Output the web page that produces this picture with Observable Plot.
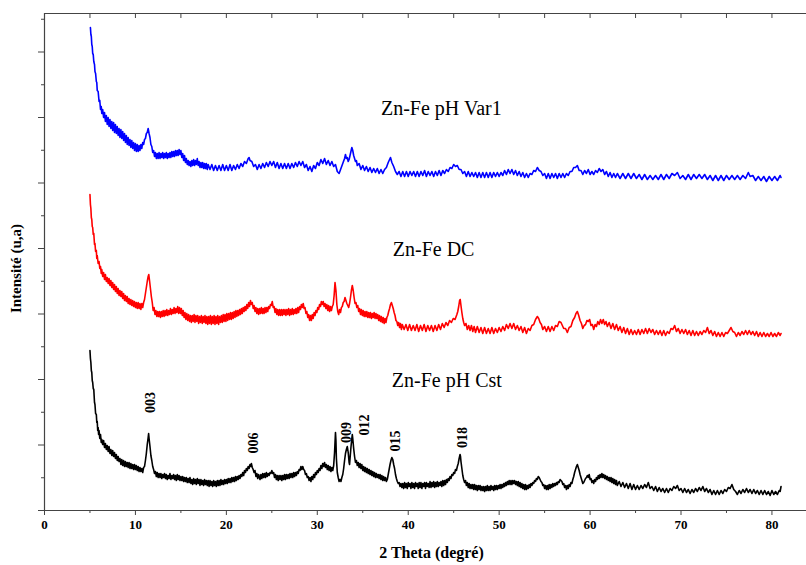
<!DOCTYPE html>
<html><head><meta charset="utf-8">
<script src="https://cdn.jsdelivr.net/npm/d3@7"></script>
<script src="https://cdn.jsdelivr.net/npm/@observablehq/plot@0.6"></script>
<style>body{margin:0;background:#fff;} svg{display:block;}
g[aria-label="x-title"] text{letter-spacing:0.9px;}
</style>
</head><body><div id="chart"></div>
<script>
const xMajor = [0,10,20,30,40,50,60,70,80];
const xMinor = [5,15,25,35,45,55,65,75];
const xTop = [0,5,10,15,20,25,30,35,40,45,50,55,60,65,70,75,80];
const yMajor = [0,65.5,131,196.5,262,327.5,393,458.5];
const yMinor = [32.75,98.25,163.75,229.25,294.75,360.25,425.75,491.25];

// Zn-Fe pH Cst (black) : [2theta, intensity]
const cstData = [[5.0,160],[5.05,152],[5.1,148],[5.15,140],[5.2,138],[5.25,130],[5.3,128],[5.36,122],[5.42,121],[5.5,108],[5.55,106],[5.62,97],[5.7,96],[5.75,88],[5.8,89],[5.85,80],[5.9,83],[5.95,76],[6.0,80],[6.08,72],[6.16,76],[6.24,68],
[6.3,71],[6.4,66],[6.5,70],[6.6,63],[6.7,67],[6.8,61],[6.9,65],[7.0,59],[7.1,64],[7.2,57],[7.3,61],[7.4,55],[7.5,60],[7.6,54],[7.7,58],[7.8,52],[7.9,56],[8.0,50],[8.1,54],[8.2,49],[8.3,52],[8.4,46],[8.5,51],[8.6,45],[8.7,50],[8.8,44],[8.9,49],[9.0,44],[9.1,48],[9.2,43],[9.3,48],[9.4,42],[9.5,47],[9.6,42],[9.7,46],[9.8,41],[9.9,46],[10.0,41],[10.1,45],[10.2,40],[10.3,44],[10.4,39],[10.5,43],[10.6,39],[10.7,42],[10.8,38],[10.9,43],
[11.0,44],[11.1,50],[11.2,57],[11.3,66],[11.4,73],[11.45,77],[11.5,72],[11.6,64],[11.7,55],[11.8,50],[11.9,44],[12.0,41],[12.1,37],[12.2,39],[12.3,34],[12.4,38],[12.5,33],[12.6,37],[12.7,33],[12.8,37],[12.9,32],[13.0,36],[13.1,33],[13.2,37],[13.3,32],[13.4,36],[13.5,31],[13.6,35],[13.7,32],[13.8,37],[13.9,31],[14.0,35],[14.1,32],[14.2,36],[14.3,31],[14.4,35],[14.5,30],[14.6,36],[14.7,31],[14.8,35],[14.9,30],[15.0,34],[15.1,30],[15.2,34],[15.3,29],[15.4,33],[15.5,29],[15.6,33],[15.7,28],[15.8,32],[15.9,28],[16.0,33],[16.1,27],[16.2,31],[16.3,26],[16.4,32],[16.5,27],[16.6,31],[16.7,26],[16.8,32],[16.9,27],[17.0,31],[17.1,25],[17.2,31],[17.3,26],[17.4,30],[17.5,25],[17.6,31],[17.7,26],[17.8,30],[17.9,25],[18.0,30],[18.1,24],[18.2,30],[18.3,25],[18.4,29],[18.5,24],[18.6,30],[18.7,25],[18.8,29],[18.9,24],[19.0,30],[19.1,25],[19.2,30],[19.3,25],[19.4,31],[19.5,26],[19.6,30],[19.7,26],[19.8,31],[19.9,27],[20.0,31],[20.1,27],[20.2,32],[20.3,28],[20.4,32],[20.5,28],[20.6,33],[20.7,29],[20.8,33],[20.9,29],[21.0,34],[21.1,30],[21.2,34],[21.3,31],[21.4,35],[21.5,32],[21.6,36],[21.7,34],[21.8,38],[21.9,35],[22.0,40],[22.1,38],[22.2,42],[22.3,40],[22.4,44],[22.5,42],[22.6,46],[22.7,44],[22.75,47],[22.85,43],[22.95,41],[23.05,38],[23.15,40],[23.25,34],[23.35,37],[23.45,32],[23.55,36],[23.7,31],[23.8,36],[23.9,32],[24.0,37],[24.1,33],[24.2,37],[24.3,33],[24.4,38],[24.5,34],[24.6,37],[24.7,35],[24.8,38],[24.9,37],[25.0,40],[25.1,37],[25.2,38],[25.3,33],[25.4,36],[25.5,31],[25.6,35],[25.7,30],[25.8,35],[25.9,31],[26.0,35],[26.1,30],[26.2,35],[26.3,31],[26.4,36],[26.5,31],[26.6,36],[26.7,32],[26.8,36],[26.9,32],[27.0,37],[27.1,33],[27.2,37],[27.3,33],[27.4,38],[27.5,34],[27.6,38],[27.7,35],[27.8,39],[27.9,37],[28.0,41],[28.1,40],[28.2,44],[28.3,41],[28.4,44],[28.5,41],[28.6,40],[28.7,36],[28.8,37],[28.9,33],[29.0,34],[29.1,30],[29.2,33],[29.3,29],[29.4,34],[29.5,31],[29.6,36],[29.7,33],[29.8,38],[29.9,36],[30.0,40],[30.1,38],[30.2,42],[30.3,40],[30.4,45],[30.5,42],[30.6,47],[30.7,44],[30.8,48],[30.9,43],[31.0,46],[31.1,41],[31.2,45],[31.3,40],[31.4,44],[31.5,39],[31.6,43],[31.7,40],[31.8,45],[31.9,58],[32.0,78],[32.05,70],[32.1,52],[32.2,38],[32.3,33],[32.4,29],[32.5,31],[32.6,29],[32.7,33],[32.8,36],[32.9,42],[33.0,50],[33.1,57],[33.2,61],[33.3,64],[33.4,58],[33.5,48],[33.55,46],[33.6,52],[33.7,63],[33.8,72],[33.85,76],[33.9,72],[34.0,62],[34.1,54],[34.2,48],[34.3,50],[34.4,45],[34.5,48],[34.6,43],[34.7,47],[34.8,42],[34.9,46],[35.0,40],[35.1,44],[35.2,39],[35.3,43],[35.4,38],[35.5,42],[35.6,37],[35.7,41],[35.8,36],[35.9,40],[36.0,35],[36.1,39],[36.2,34],[36.3,38],[36.4,33],[36.5,37],[36.6,33],[36.7,36],[36.8,32],[36.9,36],[37.0,31],[37.1,35],[37.2,30],[37.3,34],[37.4,30],[37.5,33],[37.6,29],[37.7,31],[37.8,36],[37.9,41],[38.0,46],[38.1,50],[38.2,53],[38.3,51],[38.4,46],[38.5,42],[38.6,36],[38.7,32],[38.8,29],[38.9,27],[39.0,28],[39.1,24],[39.2,27],[39.3,23],[39.4,27],[39.5,22],[39.6,28],[39.7,23],[39.8,27],[39.9,22],[40.0,28],[40.1,24],[40.2,27],[40.3,22],[40.4,28],[40.5,23],[40.6,27],[40.7,22],[40.8,28],[40.9,24],[41.0,27],[41.1,22],[41.2,28],[41.3,23],[41.4,28],[41.5,22],[41.6,27],[41.7,24],[41.8,28],[41.9,22],[42.0,28],[42.1,24],[42.2,27],[42.3,23],[42.4,29],[42.5,23],[42.6,28],[42.7,24],[42.8,29],[42.9,23],[43.0,28],[43.1,24],[43.2,29],[43.3,24],[43.4,28],[43.5,25],[43.6,29],[43.7,24],[43.8,30],[43.9,25],[44.0,30],[44.1,26],[44.2,31],[44.3,28],[44.4,32],[44.5,30],[44.6,34],[44.7,32],[44.8,36],[44.9,35],[45.0,38],[45.1,37],[45.2,41],[45.3,40],[45.4,44],[45.5,47],[45.6,52],[45.7,56],[45.75,54],[45.8,49],[45.9,42],[46.0,35],[46.1,31],[46.2,28],[46.3,30],[46.4,25],[46.5,28],[46.6,23],[46.7,27],[46.8,22],[46.9,26],[47.0,22],[47.1,26],[47.2,21],[47.3,26],[47.4,21],[47.5,25],[47.6,20],[47.7,25],[47.8,21],[47.9,25],[48.0,20],[48.1,24],[48.2,20],[48.3,24],[48.4,19],[48.5,24],[48.6,20],[48.7,25],[48.8,20],[48.9,24],[49.0,20],[49.1,25],[49.2,21],[49.3,24],[49.4,20],[49.5,25],[49.6,21],[49.7,25],[49.8,21],[49.9,25],[50.0,22],[50.1,26],[50.2,22],[50.3,26],[50.4,23],[50.5,27],[50.6,24],[50.7,28],[50.8,25],[50.9,29],[51.0,26],[51.1,30],[51.2,26],[51.3,30],[51.4,26],[51.5,30],[51.6,27],[51.7,30],[51.8,26],[51.9,29],[52.0,25],[52.1,29],[52.2,24],[52.3,28],[52.4,23],[52.5,27],[52.6,22],[52.7,26],[52.8,21],[52.9,26],[53.0,21],[53.1,25],[53.2,22],[53.3,26],[53.4,23],[53.5,27],[53.6,25],[53.7,28],[53.8,27],[53.9,30],[54.0,29],[54.1,32],[54.2,31],[54.3,34],[54.4,33],[54.5,31],[54.6,29],[54.7,28],[54.8,25],[54.9,26],[55.0,22],[55.1,25],[55.2,21],[55.3,25],[55.4,21],[55.5,26],[55.6,22],[55.7,26],[55.8,23],[55.9,27],[56.0,24],[56.1,27],[56.2,25],[56.3,28],[56.4,26],[56.5,29],[56.6,28],[56.7,31],[56.8,30],[56.9,29],[57.0,26],[57.1,27],[57.2,23],[57.3,25],[57.4,21],[57.5,25],[57.6,22],[57.7,26],[57.8,24],[57.9,28],[58.0,27],[58.1,31],[58.2,34],[58.3,38],[58.4,41],[58.5,44],[58.6,46],[58.7,43],[58.8,40],[58.9,36],[59.0,33],[59.1,30],[59.2,27],[59.3,28],[59.4,30],[59.5,32],[59.6,33],[59.7,35],[59.8,33],[59.9,36],[60.0,31],[60.1,32],[60.2,28],[60.3,30],[60.4,27],[60.5,31],[60.6,29],[60.7,33],[60.8,31],[60.9,35],[61.0,32],[61.1,36],[61.2,33],[61.3,37],[61.4,33],[61.5,36],[61.6,32],[61.7,35],[61.8,31],[61.9,34],[62.0,30],[62.1,33],[62.2,29],[62.3,33],[62.4,28],[62.5,32],[62.6,27],[62.7,31],[62.8,26],[62.9,30],[63.0,25],[63.2,29],[63.4,24],[63.6,28],[63.8,23],[64.0,27],[64.2,22],[64.4,27],[64.6,21],[64.8,26],[65.0,21],[65.2,25],[65.4,21],[65.6,25],[65.8,22],[66.0,26],[66.2,23],[66.4,28],[66.6,22],[66.8,24],[67.0,20],[67.2,24],[67.4,19],[67.6,23],[67.8,19],[68.0,22],[68.2,18],[68.4,22],[68.6,18],[68.8,22],[69.0,20],[69.2,24],[69.4,22],[69.6,25],[69.8,20],[70.0,22],[70.2,18],[70.4,22],[70.6,18],[70.8,21],[71.0,17],[71.2,21],[71.4,18],[71.6,22],[71.8,19],[72.0,23],[72.2,20],[72.4,24],[72.6,19],[72.8,22],[73.0,18],[73.2,21],[73.4,16],[73.6,20],[73.8,16],[74.0,20],[74.2,16],[74.4,20],[74.6,17],[74.8,21],[75.0,19],[75.2,23],[75.4,22],[75.6,26],[75.8,21],[76.0,19],[76.2,16],[76.4,20],[76.6,17],[76.8,21],[77.0,18],[77.2,22],[77.4,18],[77.6,21],[77.8,17],[78.0,21],[78.2,17],[78.4,20],[78.6,16],[78.8,20],[79.0,16],[79.2,20],[79.4,16],[79.6,19],[79.8,15],[80.0,20],[80.2,16],[80.4,19],[80.6,16],[80.8,20],[80.9,19],[81.0,24]];

// Zn-Fe DC (red)
const dcData = [[5.0,316],[5.05,306],[5.1,302],[5.15,293],[5.2,291],[5.25,284],[5.3,283],[5.36,276],[5.42,277],[5.5,266],[5.55,267],[5.62,259],[5.7,260],[5.75,252],[5.8,255],[5.9,247],[6.0,249],[6.08,242],[6.16,244],[6.24,237],[6.3,241],[6.4,234],[6.5,238],[6.6,231],[6.7,236],[6.8,229],[6.9,233],[7.0,227],[7.1,232],[7.2,225],[7.3,230],[7.4,223],[7.5,228],[7.6,221],[7.7,226],[7.8,219],[7.9,224],[8.0,217],[8.1,222],[8.2,215],[8.3,220],[8.4,214],[8.5,219],[8.6,212],[8.7,217],[8.8,210],[8.9,215],[9.0,209],[9.1,214],[9.2,207],[9.3,212],[9.4,206],[9.5,211],[9.6,205],[9.7,210],[9.8,204],[9.9,209],[10.0,203],[10.1,208],[10.2,202],[10.3,208],[10.4,202],[10.5,207],[10.6,201],[10.7,207],[10.8,203],[10.9,208],
[11.0,211],[11.1,217],[11.2,223],[11.3,229],[11.4,234],[11.47,236],[11.55,230],[11.65,222],[11.75,214],[11.85,208],[11.95,200],[12.05,203],[12.15,196],[12.25,200],[12.35,194],[12.45,199],[12.55,194],[12.65,199],[12.75,193],[12.85,199],[12.95,194],[13.05,200],[13.15,194],[13.25,200],[13.35,195],[13.45,201],[13.55,195],[13.65,200],[13.75,196],[13.85,202],[13.95,196],[14.05,201],[14.15,197],[14.25,203],[14.35,197],[14.45,202],[14.55,198],[14.65,204],[14.75,197],[14.85,203],[14.95,197],[15.05,202],[15.15,195],[15.25,200],[15.35,193],[15.45,198],[15.55,191],[15.65,197],[15.75,190],[15.85,196],[15.95,189],[16.05,195],[16.15,188],[16.25,195],[16.35,189],[16.45,196],[16.55,188],[16.65,195],[16.75,189],[16.85,195],[16.95,187],[17.05,194],[17.15,188],[17.25,195],[17.35,187],[17.45,194],[17.55,188],[17.65,195],[17.75,187],[17.85,194],[17.95,186],[18.05,194],[18.15,187],[18.25,195],[18.35,186],[18.45,194],[18.55,187],[18.65,195],[18.75,186],[18.85,194],[18.95,187],[19.05,195],[19.15,186],[19.25,194],[19.35,188],[19.45,195],[19.55,188],[19.65,196],[19.75,189],[19.85,196],[19.95,189],[20.05,197],[20.15,190],[20.25,197],[20.35,191],[20.45,198],[20.55,191],[20.65,198],[20.75,192],[20.85,199],[20.95,193],[21.05,200],[21.15,194],[21.25,200],[21.35,195],[21.45,201],[21.55,196],[21.65,202],[21.75,197],[21.85,203],[21.95,199],[22.05,204],[22.15,200],[22.25,206],[22.35,202],[22.45,208],[22.55,204],[22.65,210],[22.75,206],[22.85,208],[22.95,202],[23.05,205],[23.15,199],[23.25,203],[23.35,197],[23.45,202],[23.55,196],[23.65,202],[23.75,197],[23.85,203],[23.95,197],[24.05,202],[24.15,197],[24.25,203],[24.35,198],[24.45,203],[24.55,199],[24.65,204],[24.75,202],[24.85,206],[24.95,205],[25.05,209],[25.15,203],[25.25,204],[25.35,198],[25.45,202],[25.55,196],[25.65,201],[25.75,195],[25.85,201],[25.95,195],[26.05,201],[26.15,195],[26.25,201],[26.35,196],[26.45,201],[26.55,195],[26.65,201],[26.75,196],[26.85,202],[26.95,195],[27.05,201],[27.15,196],[27.25,202],[27.35,196],[27.45,201],[27.55,197],[27.65,202],[27.75,197],[27.85,203],[27.95,198],[28.05,204],[28.15,201],[28.25,206],[28.35,203],[28.45,207],[28.55,202],[28.65,203],[28.75,197],[28.85,199],[28.95,193],[29.05,196],[29.15,190],[29.25,195],[29.35,190],[29.45,196],[29.55,192],[29.65,198],[29.75,195],[29.85,200],[29.95,198],[30.05,203],[30.15,201],[30.25,206],[30.35,204],[30.45,209],[30.55,206],[30.65,209],[30.75,204],[30.85,207],[30.95,202],[31.05,206],[31.15,200],[31.25,205],[31.35,199],[31.45,204],[31.55,200],[31.65,204],[31.75,206],[31.85,215],[31.95,228],[32.05,220],[32.15,206],[32.25,199],[32.35,196],[32.45,201],[32.55,198],[32.65,203],[32.75,204],[32.85,208],[32.95,209],[33.05,213],[33.15,210],[33.25,207],[33.35,205],[33.45,203],[33.55,207],[33.65,213],[33.75,220],[33.85,225],[33.95,220],[34.05,213],[34.15,207],[34.25,208],[34.35,203],[34.45,205],[34.55,199],[34.65,202],[34.75,196],[34.85,201],[34.95,195],[35.05,200],[35.15,194],[35.25,199],[35.35,194],[35.45,199],[35.55,193],[35.65,198],[35.75,193],[35.85,198],[35.95,192],[36.05,197],[36.15,193],[36.25,198],[36.35,192],[36.45,197],[36.55,192],[36.65,196],[36.75,190],[36.85,195],[36.95,189],[37.05,194],[37.15,188],[37.25,193],[37.35,187],[37.45,192],[37.55,188],[37.65,193],[37.75,195],[37.85,199],[37.95,202],[38.05,206],[38.15,208],[38.25,205],[38.35,202],[38.45,198],[38.55,195],[38.65,190],[38.75,189],[38.85,185],[38.95,188],[39.05,183],[39.15,187],[39.25,181],[39.35,186],[39.55,181],[39.75,186],[39.95,180],[40.15,186],[40.35,180],[40.55,185],[40.75,180],[40.95,186],[41.15,179],[41.35,185],[41.55,180],[41.75,186],[41.95,179],[42.15,185],[42.35,180],[42.55,185],[42.75,179],[42.95,185],[43.15,180],[43.35,186],[43.55,181],[43.75,187],[43.95,183],[44.15,188],[44.35,185],[44.55,190],[44.75,188],[44.95,192],[45.15,191],[45.35,196],[45.45,199],[45.55,204],[45.65,210],[45.72,211],[45.8,205],[45.9,198],[46.0,192],[46.1,188],[46.2,185],[46.35,187],[46.5,181],[46.65,185],[46.8,180],[46.95,185],[47.1,179],[47.25,184],[47.4,178],[47.6,184],[47.8,178],[48.0,183],[48.2,177],[48.4,183],[48.6,177],[48.8,182],[49.0,177],[49.2,183],[49.4,177],[49.6,182],[49.8,178],[50.0,183],[50.2,179],[50.4,184],[50.6,180],[50.8,186],[51.0,182],[51.2,187],[51.4,182],[51.6,187],[51.8,181],[52.0,185],[52.2,180],[52.4,184],[52.6,178],[52.8,183],[53.0,177],[53.2,182],[53.4,180],[53.6,185],[53.8,186],[54.0,191],[54.2,194],[54.35,192],[54.5,188],[54.65,186],[54.8,181],[55.0,184],[55.2,179],[55.4,184],[55.6,179],[55.8,184],[56.0,180],[56.2,185],[56.4,184],[56.6,189],[56.8,188],[56.95,185],[57.1,182],[57.3,182],[57.5,178],[57.7,183],[57.9,184],[58.1,190],[58.3,193],[58.45,197],[58.6,199],[58.75,195],[58.9,190],[59.05,187],[59.2,182],[59.35,185],[59.5,186],[59.65,190],[59.8,189],[59.95,191],[60.1,185],[60.25,186],[60.4,181],[60.55,186],[60.7,184],[60.85,189],[61.0,186],[61.15,191],[61.3,187],[61.45,191],[61.6,186],[61.75,189],[61.9,184],[62.1,188],[62.3,182],[62.5,187],[62.7,181],[62.9,186],[63.1,180],[63.3,184],[63.5,178],[63.7,183],[63.9,177],[64.1,182],[64.3,176],[64.5,181],[64.7,176],[64.9,180],[65.1,176],[65.3,181],[65.5,176],[65.7,181],[65.9,177],[66.1,182],[66.3,177],[66.5,182],[66.7,178],[66.9,181],[67.1,176],[67.3,180],[67.5,176],[67.7,180],[67.9,175],[68.1,180],[68.3,175],[68.5,179],[68.7,177],[68.9,182],[69.1,181],[69.3,185],[69.5,179],[69.7,182],[69.9,177],[70.1,181],[70.3,177],[70.5,181],[70.7,176],[70.9,180],[71.1,175],[71.3,180],[71.5,175],[71.7,179],[71.9,175],[72.1,179],[72.3,176],[72.5,180],[72.7,178],[72.9,183],[73.1,177],[73.3,180],[73.5,175],[73.7,179],[73.9,174],[74.1,178],[74.3,174],[74.5,178],[74.7,174],[74.9,178],[75.1,177],[75.3,180],[75.5,183],[75.7,179],[75.9,178],[76.1,174],[76.3,178],[76.5,175],[76.7,179],[76.9,176],[77.1,180],[77.3,176],[77.5,180],[77.7,176],[77.9,179],[78.1,175],[78.3,179],[78.5,174],[78.7,178],[78.9,174],[79.1,178],[79.3,174],[79.5,177],[79.7,174],[79.9,178],[80.1,174],[80.3,177],[80.5,174],[80.7,178],[80.9,175],[81.0,177]];

// Zn-Fe pH Var1 (blue)
const varData = [[5.05,483],[5.1,476],[5.15,474],[5.2,466],[5.25,464],[5.3,457],[5.36,456],[5.42,449],[5.5,446],[5.55,439],[5.62,437],[5.7,429],[5.75,428],[5.8,420],[5.9,419],[6.0,409],[6.08,410],[6.16,401],[6.24,404],[6.3,397],[6.4,401],[6.5,393],[6.6,398],[6.7,389],[6.8,395],[6.9,386],[7.0,393],[7.1,384],[7.2,391],[7.3,382],[7.4,389],[7.5,380],[7.6,388],[7.7,378],[7.8,386],[7.9,377],[8.0,384],[8.1,375],[8.2,382],[8.3,373],[8.4,381],[8.5,372],[8.6,379],[8.7,370],[8.8,377],[8.9,368],[9.0,375],[9.1,366],[9.2,373],[9.3,365],[9.4,371],[9.5,363],[9.6,370],[9.7,362],[9.8,368],[9.9,360],[10.0,367],[10.1,359],[10.2,366],[10.3,359],[10.4,365],[10.5,360],[10.6,366],[10.7,362],[10.8,368],[10.9,366],[11.0,371],[11.1,372],[11.2,377],[11.3,378],[11.4,382],[11.5,377],[11.6,373],[11.7,366],[11.8,364],[11.9,358],[12.0,360],[12.1,354],[12.2,358],[12.3,352],[12.4,357],[12.5,352],[12.6,358],[12.7,352],[12.8,357],[12.9,353],[13.0,358],[13.1,352],[13.2,357],[13.3,353],[13.4,358],[13.5,352],[13.6,357],[13.7,353],[13.8,358],[13.9,353],[14.0,359],[14.1,354],[14.2,359],[14.3,354],[14.4,360],[14.5,355],[14.6,360],[14.7,355],[14.8,361],[14.9,356],[15.0,360],[15.1,353],[15.2,357],[15.3,350],[15.4,355],[15.5,348],[15.6,352],[15.7,346],[15.8,350],[15.9,345],[16.0,349],[16.1,344],[16.2,350],[16.3,345],[16.4,351],[16.5,345],[16.6,350],[16.7,346],[16.8,352],[16.9,345],[17.0,349],[17.1,343],[17.2,348],[17.3,343],[17.4,348],[17.5,342],[17.6,347],[17.7,342],[17.8,347],[17.9,341],[18.0,346],[18.2,341],[18.4,346],[18.6,340],[18.8,345],[19.0,340],[19.2,345],[19.4,340],[19.6,346],[19.8,340],[20.0,345],[20.2,340],[20.4,346],[20.6,340],[20.8,345],[21.0,341],[21.2,346],[21.4,342],[21.6,347],[21.8,344],[22.0,349],[22.2,347],[22.4,352],[22.5,353],[22.6,350],[22.8,349],[23.0,344],[23.2,346],[23.4,341],[23.6,346],[23.8,342],[24.0,347],[24.2,343],[24.4,348],[24.6,344],[24.8,349],[25.0,345],[25.2,349],[25.4,343],[25.6,348],[25.8,342],[26.0,347],[26.2,342],[26.4,347],[26.6,342],[26.8,347],[27.0,342],[27.2,347],[27.4,343],[27.6,348],[27.8,344],[28.0,349],[28.2,345],[28.4,349],[28.6,343],[28.8,346],[29.0,340],[29.2,344],[29.4,339],[29.6,345],[29.8,342],[30.0,348],[30.2,345],[30.4,351],[30.6,347],[30.8,352],[31.0,346],[31.2,350],[31.4,345],[31.6,349],[31.8,344],[32.0,346],[32.2,339],[32.4,337],[32.6,342],[32.8,347],[33.0,352],[33.1,356],[33.2,352],[33.3,353],[33.4,349],[33.5,351],[33.6,355],[33.7,359],[33.8,363],[33.9,360],[34.0,355],[34.1,352],[34.2,349],[34.3,350],[34.4,345],[34.6,347],[34.8,341],[35.0,345],[35.2,340],[35.4,344],[35.6,339],[35.8,343],[36.0,338],[36.2,342],[36.4,338],[36.6,342],[36.8,337],[37.0,341],[37.2,337],[37.4,341],[37.6,343],[37.8,348],[37.9,350],[38.05,353],[38.2,348],[38.4,344],[38.6,339],[38.8,336],[39.0,339],[39.2,334],[39.4,339],[39.6,334],[39.8,339],[40.0,334],[40.2,339],[40.4,335],[40.6,339],[40.8,334],[41.0,339],[41.2,334],[41.4,339],[41.6,335],[41.8,340],[42.0,334],[42.2,339],[42.4,335],[42.6,339],[42.8,334],[43.0,339],[43.2,335],[43.4,340],[43.6,335],[43.8,340],[44.0,337],[44.2,341],[44.4,339],[44.6,343],[44.8,342],[45.0,346],[45.2,344],[45.4,345],[45.6,341],[45.8,341],[46.0,337],[46.2,339],[46.4,334],[46.6,339],[46.8,334],[47.0,338],[47.2,334],[47.4,338],[47.6,333],[47.8,338],[48.0,333],[48.2,338],[48.4,333],[48.6,338],[48.8,333],[49.0,338],[49.2,333],[49.4,338],[49.6,334],[49.8,338],[50.0,334],[50.2,338],[50.4,335],[50.6,340],[50.8,336],[51.0,341],[51.2,337],[51.4,341],[51.6,336],[51.8,340],[52.0,335],[52.2,339],[52.4,334],[52.6,338],[52.8,333],[53.0,337],[53.2,333],[53.4,337],[53.6,336],[53.8,340],[54.0,339],[54.2,343],[54.4,340],[54.6,339],[54.8,335],[55.0,337],[55.2,332],[55.4,337],[55.6,332],[55.8,337],[56.0,333],[56.2,337],[56.4,332],[56.6,337],[56.8,333],[57.0,337],[57.2,333],[57.4,337],[57.6,335],[57.8,339],[58.0,339],[58.2,343],[58.4,343],[58.6,345],[58.8,340],[59.0,340],[59.2,336],[59.4,340],[59.6,337],[59.8,341],[60.0,336],[60.2,339],[60.4,336],[60.6,340],[60.8,338],[61.0,342],[61.2,339],[61.4,341],[61.6,336],[61.8,339],[62.0,334],[62.2,338],[62.4,333],[62.6,337],[62.8,333],[63.0,337],[63.3,332],[63.6,337],[63.9,332],[64.2,337],[64.5,332],[64.8,337],[65.1,332],[65.4,336],[65.7,331],[66.0,336],[66.3,331],[66.6,335],[66.9,331],[67.2,335],[67.5,331],[67.8,336],[68.1,331],[68.4,336],[68.7,332],[69.0,337],[69.3,335],[69.6,338],[69.9,332],[70.2,335],[70.5,331],[70.8,336],[71.1,331],[71.4,336],[71.7,332],[72.0,336],[72.3,332],[72.6,336],[72.9,331],[73.2,335],[73.5,330],[73.8,335],[74.1,330],[74.4,335],[74.7,330],[75.0,335],[75.3,331],[75.6,335],[75.9,331],[76.2,335],[76.5,331],[76.8,335],[77.1,332],[77.4,338],[77.6,334],[77.9,335],[78.2,330],[78.5,334],[78.8,330],[79.1,334],[79.4,329],[79.7,334],[80.0,330],[80.3,334],[80.6,330],[80.9,335],[81.0,333]];

const seriesLabels = ["Zn-Fe pH Var1","Zn-Fe DC","Zn-Fe pH Cst"];
const labelX = [37.0,38.3,38.2];
const labelY = [402,261,130];
const peakNames = ["003","006","009","012","015","018"];
const peakX = [11.66,23.03,33.2,35.2,38.55,46.0];
const peakY = [108,67.5,78,85.5,69.5,73];

const serif = "'Liberation Serif','Times New Roman',serif";
const axisColor = "#444";

const chart = Plot.plot({
  width: 806, height: 565,
  marginLeft: 44, marginRight: 0, marginTop: 13, marginBottom: 55,
  style: {fontFamily: serif, background: "#fff", color: "#000", overflow: "visible"},
  x: {domain: [0, 83.8]},
  y: {domain: [0, 497]},
  marks: [
    Plot.ruleY([0], {stroke: axisColor, strokeWidth: 1.2}),
    Plot.ruleY([497], {stroke: axisColor, strokeWidth: 1.2}),
    Plot.ruleX([0], {stroke: axisColor, strokeWidth: 1.2}),
    Plot.axisX({ticks: xMajor, tickSize: 5, tickPadding: 4, stroke: axisColor, fontWeight: "bold", fontSize: 13, label: null, tickFormat: d => String(d)}),
    Plot.axisX({ticks: xMinor, tickSize: 3, stroke: axisColor, label: null, tickFormat: () => ""}),
    Plot.ruleX(xTop, {x: d => d, insetBottom: 492, stroke: axisColor}),
    Plot.axisY({ticks: yMajor, tickSize: 6, stroke: axisColor, label: null, tickFormat: () => ""}),
    Plot.axisY({ticks: yMinor, tickSize: 3, stroke: axisColor, label: null, tickFormat: () => ""}),
    Plot.line(cstData, {x: d => d[0], y: d => d[1], stroke: "#000", strokeWidth: 1.6}),
    Plot.line(dcData, {x: d => d[0], y: d => d[1], stroke: "#ff0000", strokeWidth: 1.6}),
    Plot.line(varData, {x: d => d[0], y: d => d[1], stroke: "#0000ff", strokeWidth: 1.6}),
    Plot.text(seriesLabels.map((t, i) => ({t, x: labelX[i], y: labelY[i]})), {x: "x", y: "y", text: "t", textAnchor: "start", fontSize: 20, fill: "#000"}),
    Plot.text(peakNames.map((t, i) => ({t, x: peakX[i], y: peakY[i]})), {x: "x", y: "y", text: "t", rotate: -90, fontSize: 14, fontWeight: "bold", fill: "#000"}),
    Plot.text(["2 Theta (degré)"], {ariaLabel: "x-title", frameAnchor: "bottom", dx: 6, dy: 47, fontSize: 16, fontWeight: "bold", fill: "#000"}),
    Plot.text(["Intensité (u,a)"], {ariaLabel: "y-title", frameAnchor: "left", textAnchor: "middle", rotate: -90, dx: -28, dy: 6.5, fontSize: 15, fontWeight: "bold", fill: "#000"})
  ]
});
document.getElementById("chart").appendChild(chart);
</script>
</body></html>
